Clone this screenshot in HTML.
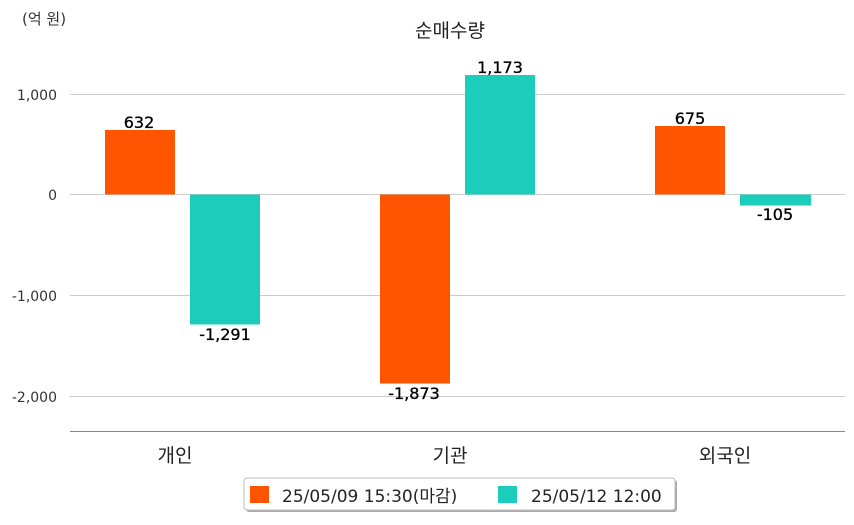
<!DOCTYPE html>
<html><head><meta charset="utf-8"><style>
body{margin:0;background:#fff;}
text{font-family:"DejaVu Sans","Noto Sans CJK KR",sans-serif;}
</style></head><body>
<svg width="854" height="520" xmlns="http://www.w3.org/2000/svg">
<rect width="854" height="520" fill="#fff"/>
<text x="22" y="24" font-size="15" fill="#333">(억 원)</text>
<text x="450" y="37" font-size="19" fill="#222" text-anchor="middle">순매수량</text>
<g stroke="#ccc" stroke-width="1">
<line x1="70" y1="94.5" x2="845" y2="94.5"/>
<line x1="70" y1="194.5" x2="845" y2="194.5"/>
<line x1="70" y1="295.5" x2="845" y2="295.5"/>
<line x1="70" y1="396.5" x2="845" y2="396.5"/>
</g>
<line x1="70" y1="431.5" x2="845" y2="431.5" stroke="#888" stroke-width="1"/>
<g font-size="14" fill="#333" text-anchor="end">
<text x="57" y="100">1,000</text>
<text x="57" y="200">0</text>
<text x="57" y="301">-1,000</text>
<text x="57" y="402">-2,000</text>
</g>
<g fill="#ff5500">
<rect x="105" y="130" width="70" height="64.5"/>
<rect x="380" y="194.5" width="70" height="189"/>
<rect x="655" y="126" width="70" height="68.5"/>
</g>
<g fill="#1dcdbc">
<rect x="190" y="194.5" width="70" height="130"/>
<rect x="465" y="75" width="70" height="119.5"/>
<rect x="740" y="194.5" width="71" height="11"/>
</g>
<g font-size="16" fill="#000" text-anchor="middle" stroke="#000" stroke-width="0.3">
<text x="139" y="128">632</text>
<text x="225" y="340">-1,291</text>
<text x="414" y="399">-1,873</text>
<text x="500" y="73">1,173</text>
<text x="690" y="124">675</text>
<text x="775" y="220">-105</text>
</g>
<g font-size="19" fill="#222" text-anchor="middle">
<text x="175" y="462">개인</text>
<text x="450" y="462">기관</text>
<text x="725" y="462">외국인</text>
</g>
<rect x="246" y="480" width="431" height="32" rx="3" fill="#aaa"/>
<rect x="244" y="478" width="431" height="32" rx="3" fill="#fff" stroke="#bbb"/>
<rect x="250" y="486" width="19" height="17" fill="#ff5500"/>
<text x="282" y="502" font-size="17" fill="#222">25/05/09 15:30(마감)</text>
<rect x="498" y="486" width="19" height="17" fill="#1dcdbc"/>
<text x="531" y="502" font-size="17" fill="#222">25/05/12 12:00</text>
</svg>
</body></html>
